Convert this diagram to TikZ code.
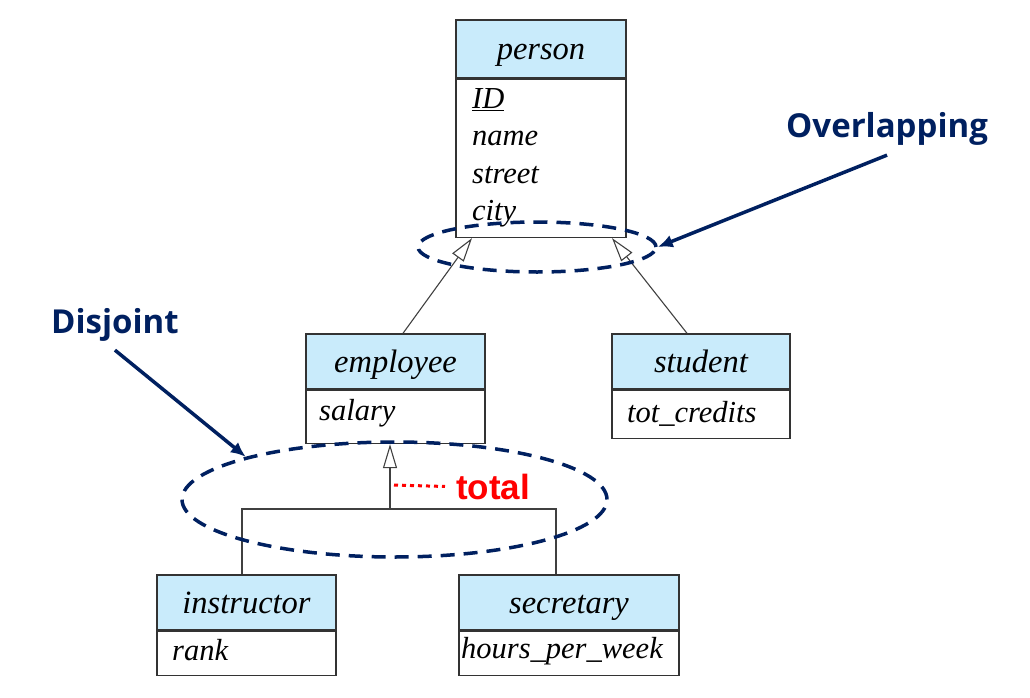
\documentclass[tikz,border=0pt]{standalone}
\usepackage{fontspec}
\setmainfont{Liberation Serif}
\newfontfamily\notefont{Open Sans}
\newfontfamily\labelfont{Liberation Sans}
\usetikzlibrary{arrows.meta, positioning, shapes.geometric}

\definecolor{headblue}{HTML}{C9EBFB}
\definecolor{navy}{HTML}{002060}
\definecolor{boxgray}{HTML}{333333}
\definecolor{linegray}{HTML}{404040}

\begin{document}
\begin{tikzpicture}
        [x=1pt, y=-1pt,
         every node/.style={inner sep=0pt},
         classhead/.style={
             draw=boxgray, line width=1.4pt, fill=headblue,
             minimum height=55pt, text height=24pt, text depth=2pt,
             font=\fontsize{32.5}{36}\selectfont\itshape
         },
         classbody/.style={
             draw=boxgray, line width=1.4pt, anchor=north
         },
         attr/.style={
             anchor=base west,
             font=\fontsize{30.5}{36}\selectfont\itshape
         },
         isa/.style={
             draw=linegray, line width=1.1pt,
             -{Triangle[open, length=24pt, width=14pt]}
         },
         link/.style={draw=linegray, line width=1.1pt},
         constraint/.style={
             ellipse, draw=navy, line width=3.5pt,
             dash pattern=on 14pt off 9pt
         },
         note/.style={
             anchor=base west, text=navy,
             font=\fontsize{33}{36}\selectfont\notefont\bfseries
         },
         pointer/.style={
             navy, line width=3.5pt,
             -{Latex[length=15pt, width=13pt]}
         }
         ]
        \useasboundingbox (0,0) rectangle (1030,698);

        % entity boxes
        \node[classhead, minimum width=170pt, minimum height=58pt] (person) at (541,49) {person};
        \node[classbody, minimum width=170pt, minimum height=158pt] (personbody) at (person.south) {};
        \node[classhead, minimum width=179pt] (employee) at (395.5,361.5) {employee};
        \node[classbody, minimum width=179pt, minimum height=53pt] (employeebody) at (employee.south) {};
        \node[classhead, minimum width=178pt] (student) at (701,361.5) {student};
        \node[classbody, minimum width=178pt, minimum height=48pt] (studentbody) at (student.south) {};
        \node[classhead, minimum width=179pt] (instructor) at (246.5,602.5) {instructor};
        \node[classbody, minimum width=179pt, minimum height=44pt] (instructorbody) at (instructor.south) {};
        \node[classhead, minimum width=220pt] (secretary) at (569,602.5) {secretary};
        \node[classbody, minimum width=220pt, minimum height=44pt] (secretarybody) at (secretary.south) {};

        % attributes
        \node[attr] (id) at (472,109) {\underline{ID}};
        \node[attr] (name) at (472,146) {name};
        \node[attr] (street) at (472,183) {street};
        \node[attr] (city) at (472,220) {city};
        \node[attr] (salary) at (319,420) {salary};
        \node[attr] (credits) at (627,422) {tot\_credits};
        \node[attr] (rank) at (172,660) {rank};
        \node[attr] (hours) at (461,658) {hours\_per\_week};

        % specialization
        \draw[isa] ([xshift=7.5pt]employee.north) -- ([xshift=-69pt]personbody.south);
        \draw[isa] ([xshift=-14pt]student.north) -- ([xshift=71pt]personbody.south);
        \coordinate (fork) at (390,509);
        \draw[isa] (fork) -- ([xshift=-5.5pt]employeebody.south);
        \draw[link] ([xshift=-4.5pt]instructor.north) |- (fork) -| ([xshift=-13pt]secretary.north);

        % constraints
        \node[constraint, minimum width=238pt, minimum height=50pt] (overlap) at (537,247) {};
        \node[constraint, minimum width=425pt, minimum height=115pt] (disjoint) at (394.5,499.5) {};

        \node[note] (overlaplabel) at (786,137) {Overlapping};
        \node[note] (disjointlabel) at (51,333) {Disjoint};
        \draw[pointer] ([yshift=-10pt]overlaplabel.south) -- (overlap.east);
        \draw[pointer] ([yshift=-9pt]disjointlabel.south) -- (disjoint.164);

        \node[anchor=base west, text=red, font=\fontsize{35}{40}\selectfont\labelfont\bfseries] (total) at (456,499) {total};
        \coordinate (totalstart) at (394,485);
        \draw[red, line width=3pt, dash pattern=on 4pt off 4pt] (totalstart) -- ([xshift=-11pt]total.west);
    \end{tikzpicture}
\end{document}
